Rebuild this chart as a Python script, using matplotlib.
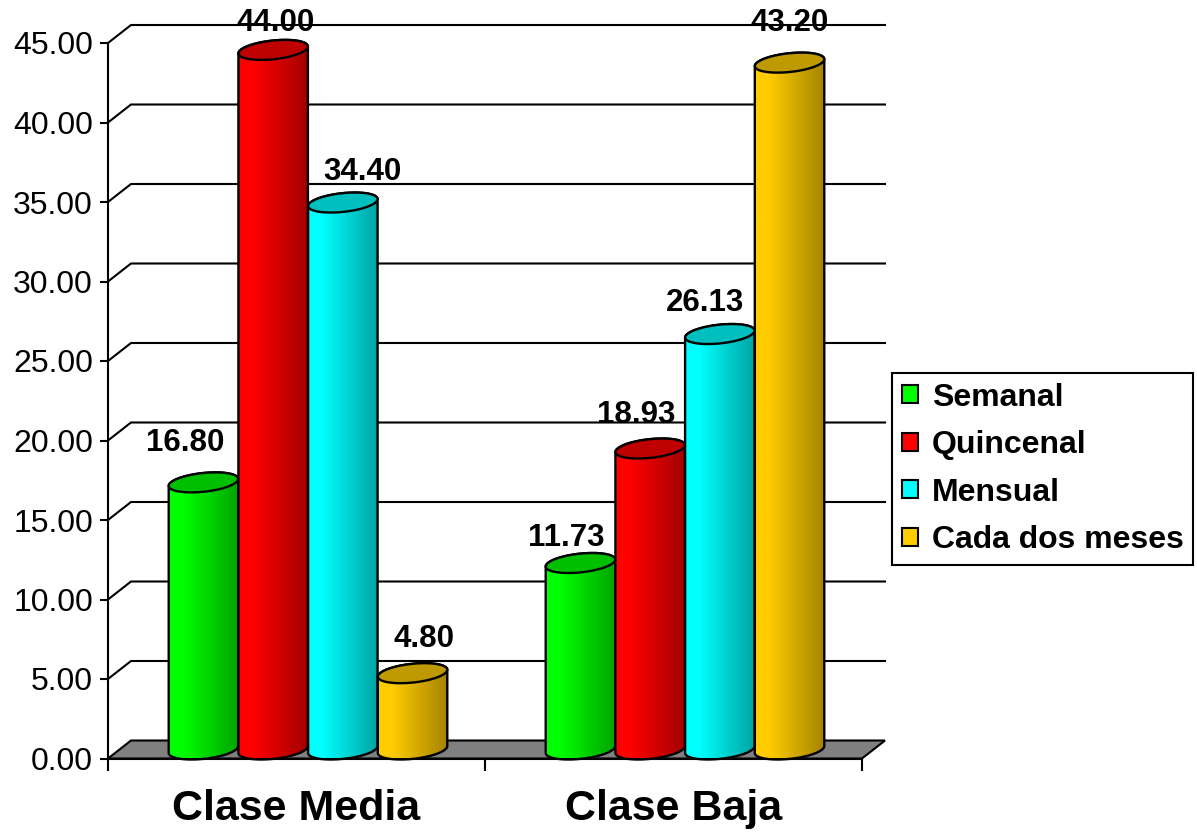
import numpy as np
import matplotlib
matplotlib.use("Agg")
import matplotlib.pyplot as plt
from matplotlib.patches import Polygon, Patch

plt.rcParams['font.family'] = ['Liberation Sans', 'DejaVu Sans']

# datos
categorias = ['Clase Media', 'Clase Baja']
series = ['Semanal', 'Quincenal', 'Mensual', 'Cada dos meses']
semanal = [16.80, 11.73]
quincenal = [44.00, 18.93]
mensual = [34.40, 26.13]
cada_dos_meses = [4.80, 43.20]
valores = [semanal, quincenal, mensual, cada_dos_meses]
y_ticks = [0, 5, 10, 15, 20, 25, 30, 35, 40, 45]

colores = ['#00FF00', '#FF0000', '#00FFFF', '#FFCC00']

# desplazamiento de etiquetas (px) por serie y categoría
nudge = {
    (0, 0): (-18, -48), (1, 0): (2, -36), (2, 0): (20, -40), (3, 0): (11, -43),
    (0, 1): (-14, -34), (1, 1): (-14, -43), (2, 1): (-15, -40), (3, 1): (0, -49),
}

W, H = 1197, 833
fig = plt.figure(figsize=(W / 100, H / 100), dpi=100)
ax = fig.add_axes([108 / W, (H - 758.5) / H, 754 / W, 715.5 / H])
ax.set_xlim(0, 2)
ax.set_ylim(0, 45)

sx = 2 / 754        # unidades de datos por pixel (x)
sy = 45 / 715.5     # unidades de datos por pixel (y)
dep_x, dep_y = 23 * sx, 18 * sy
paso = 69.7 * sx
rx, hx, hy = 32.6 * sx, 12.0 * sx, 10 * sy
lw = 1.7

# piso gris y rejilla de la pared
ax.add_patch(Polygon([(0, 0), (2, 0), (2 + dep_x, dep_y), (dep_x, dep_y)],
                     closed=True, fc='#808080', ec='black', lw=1.5,
                     zorder=2, clip_on=False))
for v in y_ticks[1:]:
    ax.plot([0, dep_x, 2 + dep_x], [v, v + dep_y, v + dep_y],
            color='black', lw=1.5, zorder=2, clip_on=False)


def elipse(cx, cy, t):
    return cx + rx * np.cos(t) + hx * np.sin(t), cy + hy * np.sin(t)


t0 = np.arctan2(hx, rx)
z = 3.0
for j in range(len(categorias)):
    for i, vals in enumerate(valores):
        v = vals[j]
        cx = j + 0.5 + (i - 1.5) * paso + dep_x / 2
        yb = dep_y / 2
        yt = v + dep_y / 2

        ta = np.linspace(t0 + np.pi, t0 + 2 * np.pi, 60)
        tb = np.linspace(t0, t0 + np.pi, 60)
        bx, by = elipse(cx, yb, ta)
        tx, ty = elipse(cx, yt, tb)
        body = np.column_stack([np.r_[bx, tx], np.r_[by, ty]])

        # sombreado horizontal del cilindro
        base = np.array(matplotlib.colors.to_rgb(colores[i]))
        s = np.linspace(0, 1, 200)
        f = np.where(s < 0.2, 1.0, 1.0 - (s - 0.2) / 0.8 * 0.36)
        grad = (f[:, None] * base[None, :])[None, :, :]
        xmin, xmax = body[:, 0].min(), body[:, 0].max()
        clip = Polygon(body, closed=True, fc='none', ec='black', lw=lw,
                       zorder=z + 0.002, clip_on=False)
        im = ax.imshow(grad, extent=[xmin, xmax, body[:, 1].min(), body[:, 1].max()],
                       aspect='auto', zorder=z, interpolation='bilinear')
        ax.add_patch(clip)
        im.set_clip_path(clip)

        ex, ey = elipse(cx, yt, np.linspace(0, 2 * np.pi, 120))
        ax.add_patch(Polygon(np.column_stack([ex, ey]), closed=True,
                             fc=base * 0.75, ec='black', lw=lw,
                             zorder=z + 0.004, clip_on=False))
        z += 0.01

        dx, dy = nudge[(i, j)]
        ax.annotate(f'{v:.2f}', xy=(cx, v), xytext=(dx, -dy),
                    textcoords='offset pixels', ha='center', va='center',
                    fontsize=22.5, fontweight='bold', zorder=1,
                    annotation_clip=False)

ax.set_xlim(0, 2)
ax.set_ylim(0, 45)

# ejes
for side in ['top', 'right']:
    ax.spines[side].set_visible(False)
for side in ['left', 'bottom']:
    ax.spines[side].set_linewidth(1.5)
    ax.spines[side].set_zorder(2.5)

ax.set_yticks(y_ticks)
ax.set_yticklabels([f'{t:.2f}' for t in y_ticks])
ax.tick_params(axis='y', direction='out', length=5.8, width=1.5,
               labelsize=23, pad=5)
ax.set_xticks([0, 1, 2])
ax.set_xticklabels([])
ax.tick_params(axis='x', which='major', direction='out', length=8.6, width=1.5)
ax.set_xticks([0.5, 1.5], minor=True)
ax.set_xticklabels(categorias, minor=True, fontsize=31, fontweight='bold')
ax.tick_params(axis='x', which='minor', length=0, pad=22)

handles = [Patch(fc=c, ec='black', lw=1.5, label=n) for c, n in zip(colores, series)]
leg = fig.legend(handles=handles, loc='upper left',
                 bbox_to_anchor=(892 / W, 1 - 373 / H), borderaxespad=0,
                 prop={'weight': 'bold', 'size': 23}, frameon=True,
                 fancybox=False, framealpha=1, edgecolor='black',
                 handlelength=0.5, handleheight=0.5, handletextpad=0.45,
                 labelspacing=0.55, borderpad=0.3)
leg.get_frame().set_linewidth(1.5)

fig.savefig('out.png', dpi=100)
